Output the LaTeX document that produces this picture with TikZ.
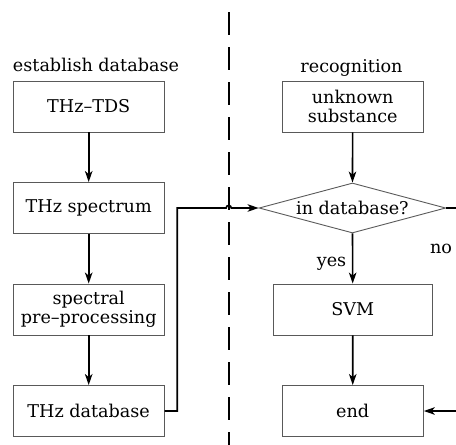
\documentclass[tikz,border=0pt]{standalone}
\usepackage{fontspec}
\setmainfont{DejaVu Serif}
\usetikzlibrary{shapes.geometric,arrows.meta}
\begin{document}
\begin{tikzpicture}[x=1pt,y=-1pt,
  font=\fontsize{17.6}{19.5}\selectfont,
  box/.style={draw=black!65,line width=0.9pt,inner sep=0pt,align=center,minimum height=51pt},
  arr/.style={line width=1.6pt,-{Stealth[length=11pt,width=7.5pt,inset=3pt]}}]
\useasboundingbox (0,0) rectangle (456,445);
\draw[line width=2.2pt,dash pattern=on 23pt off 12pt] (228.7,12) -- (228.7,445);

\node[anchor=base] (lefttitle) at (96,71.7) {establish database};
\node[anchor=base] (righttitle) at (351.5,72.5) {recognition};

\node[box,minimum width=150.7pt] (tds) at (88.7,106.5) {THz--TDS};
\node[box,minimum width=150.7pt] (spec) at (88.7,208) {THz spectrum};
\node[box,minimum width=150.7pt] (pre) at (88.7,309.5) {spectral\\pre--processing};
\node[box,minimum width=150.7pt] (db) at (88.7,411) {THz database};

\node[box,minimum width=141.3pt] (unk) at (352.7,106.5) {unknown\\substance};
\node[diamond,shape aspect=3.73,draw=black!65,line width=0.9pt,inner sep=0pt,minimum width=186.7pt,minimum height=50pt] (dia) at (352.4,208) {in database?};
\node[box,minimum width=159.7pt] (svm) at (352.8,309.5) {SVM};
\node[box,minimum width=141.3pt] (endn) at (352.7,411) {end};

\node[anchor=base] (yes) at (331.5,266.5) {yes};
\node[anchor=base] (no) at (441,253) {no};

\coordinate (jump) at (228.7,208);
\draw[arr] (tds) -- (spec);
\draw[arr] (spec) -- (pre);
\draw[arr] (pre) -- (db);
\draw[arr] (unk) -- (dia);
\draw[arr] (dia) -- (svm);
\draw[arr] (svm) -- (endn);
\draw[arr] (db.east) -- ++(12.7,0) |- ([xshift=-2.6pt]jump) arc (180:360:2.6) -- (dia.west);
\draw[arr] (dia.east) -- ++(16,0) |- (endn.east);
\end{tikzpicture}
\end{document}
